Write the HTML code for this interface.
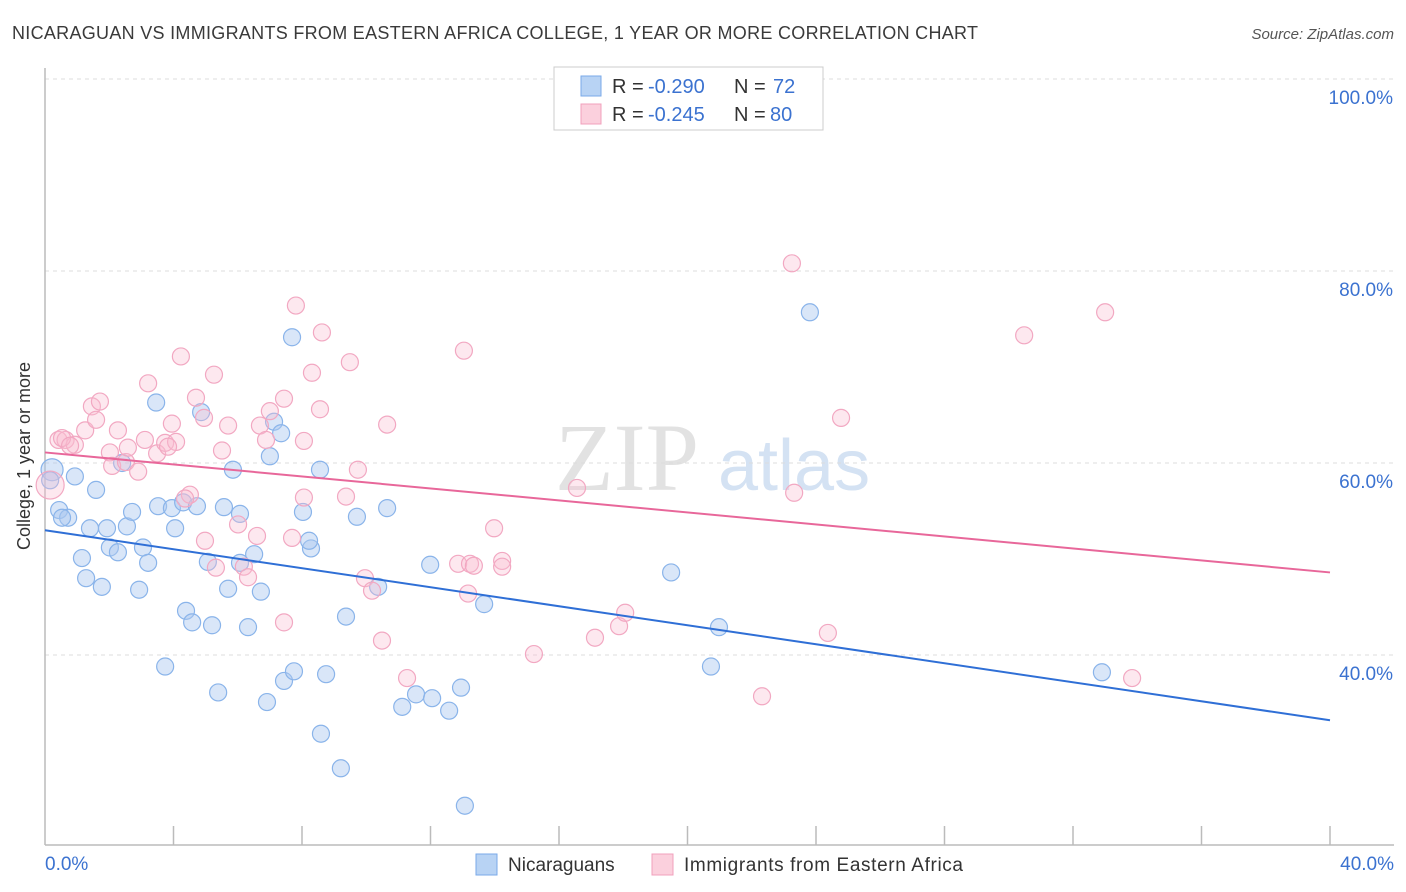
<!DOCTYPE html>
<html><head><meta charset="utf-8"><style>
body{margin:0;background:#fff;font-family:"Liberation Sans",sans-serif;}
#wrap{position:relative;width:1406px;height:892px;overflow:hidden;}
</style></head><body>
<div id="wrap">
<svg id="svg" width="1406" height="892" xmlns="http://www.w3.org/2000/svg">
<text x="12" y="39" font-size="18" fill="#3a3a3a" textLength="966" lengthAdjust="spacing">NICARAGUAN VS IMMIGRANTS FROM EASTERN AFRICA COLLEGE, 1 YEAR OR MORE CORRELATION CHART</text>
<text x="1394" y="39" font-size="15" fill="#555" text-anchor="end" font-style="italic">Source: ZipAtlas.com</text>
<text x="30" y="456" font-size="18" fill="#333" text-anchor="middle" transform="rotate(-90 30 456)">College, 1 year or more</text>
<g>
<text x="555" y="490" font-size="96" fill="#e2e2e2" font-family="Liberation Serif, serif">ZIP</text>
<text x="718" y="490" font-size="72" fill="#d4e2f3">atlas</text>
</g>
<g id="grid"></g><g id="axes"></g><g id="marks"></g><g id="lines"></g>
<g>
<rect x="554" y="67" width="269" height="63" fill="#fff" stroke="#ccc"/>
<rect x="581" y="76" width="20" height="20" fill="#b8d3f4" stroke="#7aaae8"/>
<rect x="581" y="104" width="20" height="20" fill="#fbd0dd" stroke="#f0a0bc"/>
<text y="93" font-size="20" fill="#333"><tspan x="612">R = </tspan><tspan x="648" fill="#3b72d0">-0.290</tspan><tspan x="734">N = </tspan><tspan x="773" fill="#3b72d0">72</tspan></text>
<text y="121" font-size="20" fill="#333"><tspan x="612">R = </tspan><tspan x="648" fill="#3b72d0">-0.245</tspan><tspan x="734">N = </tspan><tspan x="770" fill="#3b72d0">80</tspan></text>
</g>
<g>
<rect x="476" y="854" width="21" height="21" fill="#b8d3f4" stroke="#7aaae8"/>
<text x="508" y="871" font-size="19" fill="#333">Nicaraguans</text>
<rect x="652" y="854" width="21" height="21" fill="#fbd0dd" stroke="#f0a0bc"/>
<text x="684" y="871" font-size="19" fill="#333" textLength="279" lengthAdjust="spacing">Immigrants from Eastern Africa</text>
</g>
</svg>
</div>
<script>
const xTicks=[0,4,8,12,16,20,24,28,32,36,40];
const yTicks=[40,60,80,100];
const yTickLabels=["40.0%","60.0%","80.0%","100.0%"];
const blueX=[.22,.93,1.59,.44,.72,.53,1.40,1.93,2.55,2.71,3.52,3.95,4.30,4.73,5.57,6.07,4.05,2.02,2.27,3.05,3.21,1.15,1.28,1.77,2.93,4.39,4.58,5.20,5.70,6.72,6.32,5.07,6.07,6.51,3.74,5.39,6.91,7.44,7.75,8.75,8.59,9.21,9.37,10.37,11.99,13.67,11.12,11.55,12.05,12.58,12.95,13.07,19.49,20.98,20.73,23.81,32.90,7.69,3.46,4.86,5.85,7.00,7.13,7.35,8.56,8.03,8.28,8.22,9.71,10.65,2.40,.16];
const blueY=[59.3,58.6,57.2,55.1,54.3,54.3,53.2,53.2,53.4,54.9,55.5,55.3,55.9,55.5,55.4,54.7,53.2,51.2,50.7,51.2,49.6,50.1,48.0,47.1,46.8,44.6,43.4,43.1,46.9,46.6,42.9,49.7,49.6,50.5,38.8,36.1,35.1,37.3,38.3,38.0,31.8,28.2,44.0,47.1,49.4,45.3,34.6,35.9,35.5,34.2,36.6,24.3,48.6,42.9,38.8,75.7,38.2,73.1,66.3,65.3,59.3,60.7,64.3,63.1,59.3,54.9,51.1,51.9,54.4,55.3,60.0,58.2];
const pinkX=[.16,.42,.64,.93,1.25,1.46,1.71,1.59,2.02,2.27,2.09,2.52,2.90,2.58,3.11,3.21,3.49,3.74,3.95,4.08,4.23,4.51,4.70,4.98,4.95,5.26,5.51,5.32,5.70,6.01,6.19,6.32,6.60,6.69,6.88,7.00,7.44,7.44,7.69,7.81,8.06,8.06,8.31,8.56,8.62,9.37,9.49,9.74,9.96,10.18,10.49,10.65,11.27,12.86,13.17,13.23,13.35,13.04,13.98,14.23,14.23,15.22,16.56,17.12,17.87,18.06,22.32,23.32,23.25,24.37,24.78,30.48,33.00,33.84,.53,.78,3.83,4.36];
const pinkY=[57.7,62.4,62.4,61.9,63.4,65.9,66.4,64.5,61.1,63.4,59.7,60.1,59.1,61.6,62.4,68.3,61.0,62.1,64.1,62.2,71.1,56.7,66.8,51.9,64.7,69.2,61.3,49.1,63.9,53.6,49.2,48.1,52.4,63.9,62.4,65.4,66.7,43.4,52.2,76.4,56.4,62.3,69.4,65.6,73.6,56.5,70.5,59.3,48.0,46.7,41.5,64.0,37.6,49.5,46.4,49.5,49.3,71.7,53.2,49.8,49.2,40.1,57.4,41.8,43.0,44.4,35.7,56.9,80.8,42.3,64.7,73.3,75.7,37.6,62.6,61.8,61.7,56.3];
const blueTrend=[53.0,33.2];
const pinkTrend=[61.1,48.6];

const X=v=>45+v*(1285/40);
const Y=v=>79+(100-v)*9.6;
const NS="http://www.w3.org/2000/svg";
function mk(tag,parent,attrs){const e=document.createElementNS(NS,tag);for(const k in attrs)e.setAttribute(k,attrs[k]);document.getElementById(parent).appendChild(e);return e;}
yTicks.forEach((t,i)=>{
  const g=mk('line','grid',{x1:45,x2:1394,y1:Y(t),y2:Y(t),stroke:'#dcdcdc','stroke-dasharray':'4,4'});
  
  
  const l=mk('text','grid',{x:1393,y:Y(t)+25,'font-size':19,fill:'#3b72d0','text-anchor':'end'});
  l.textContent=yTickLabels[i];
  
  
});
const ax=mk('line','axes',{x1:45,x2:45,y1:68,y2:845,stroke:'#bbb','stroke-width':1.5});


const bx=mk('line','axes',{x1:45,x2:1394,y1:845,y2:845,stroke:'#bbb','stroke-width':1.5});


xTicks.forEach(t=>{
  if(t===0)return;
  const k=mk('line','axes',{x1:X(t),x2:X(t),y1:826,y2:845,stroke:'#bbb','stroke-width':1.5});
  
  
});
const l0=mk('text','axes',{x:45,y:870,'font-size':19,fill:'#3b72d0'});l0.textContent='0.0%';


const l1=mk('text','axes',{x:1394,y:870,'font-size':19,fill:'#3b72d0','text-anchor':'end'});l1.textContent='40.0%';


blueX.forEach((v,i)=>{
  const c=mk('circle','marks',{cx:X(v),cy:Y(blueY[i]),r:i===0?11:8.5,fill:'rgba(170,200,240,0.45)',stroke:'#8ab4ea','stroke-width':1.2});
  
  
});
pinkX.forEach((v,i)=>{
  const c=mk('circle','marks',{cx:X(v),cy:Y(pinkY[i]),r:i===0?14:8.5,fill:'rgba(248,190,210,0.35)',stroke:'#f2a8c2','stroke-width':1.2});
  
  
});
const bt=mk('line','lines',{x1:X(0),y1:Y(blueTrend[0]),x2:X(40),y2:Y(blueTrend[1]),stroke:'#2f6fd6','stroke-width':2});


const pt=mk('line','lines',{x1:X(0),y1:Y(pinkTrend[0]),x2:X(40),y2:Y(pinkTrend[1]),stroke:'#e8679a','stroke-width':2});


</script>
</body></html>
